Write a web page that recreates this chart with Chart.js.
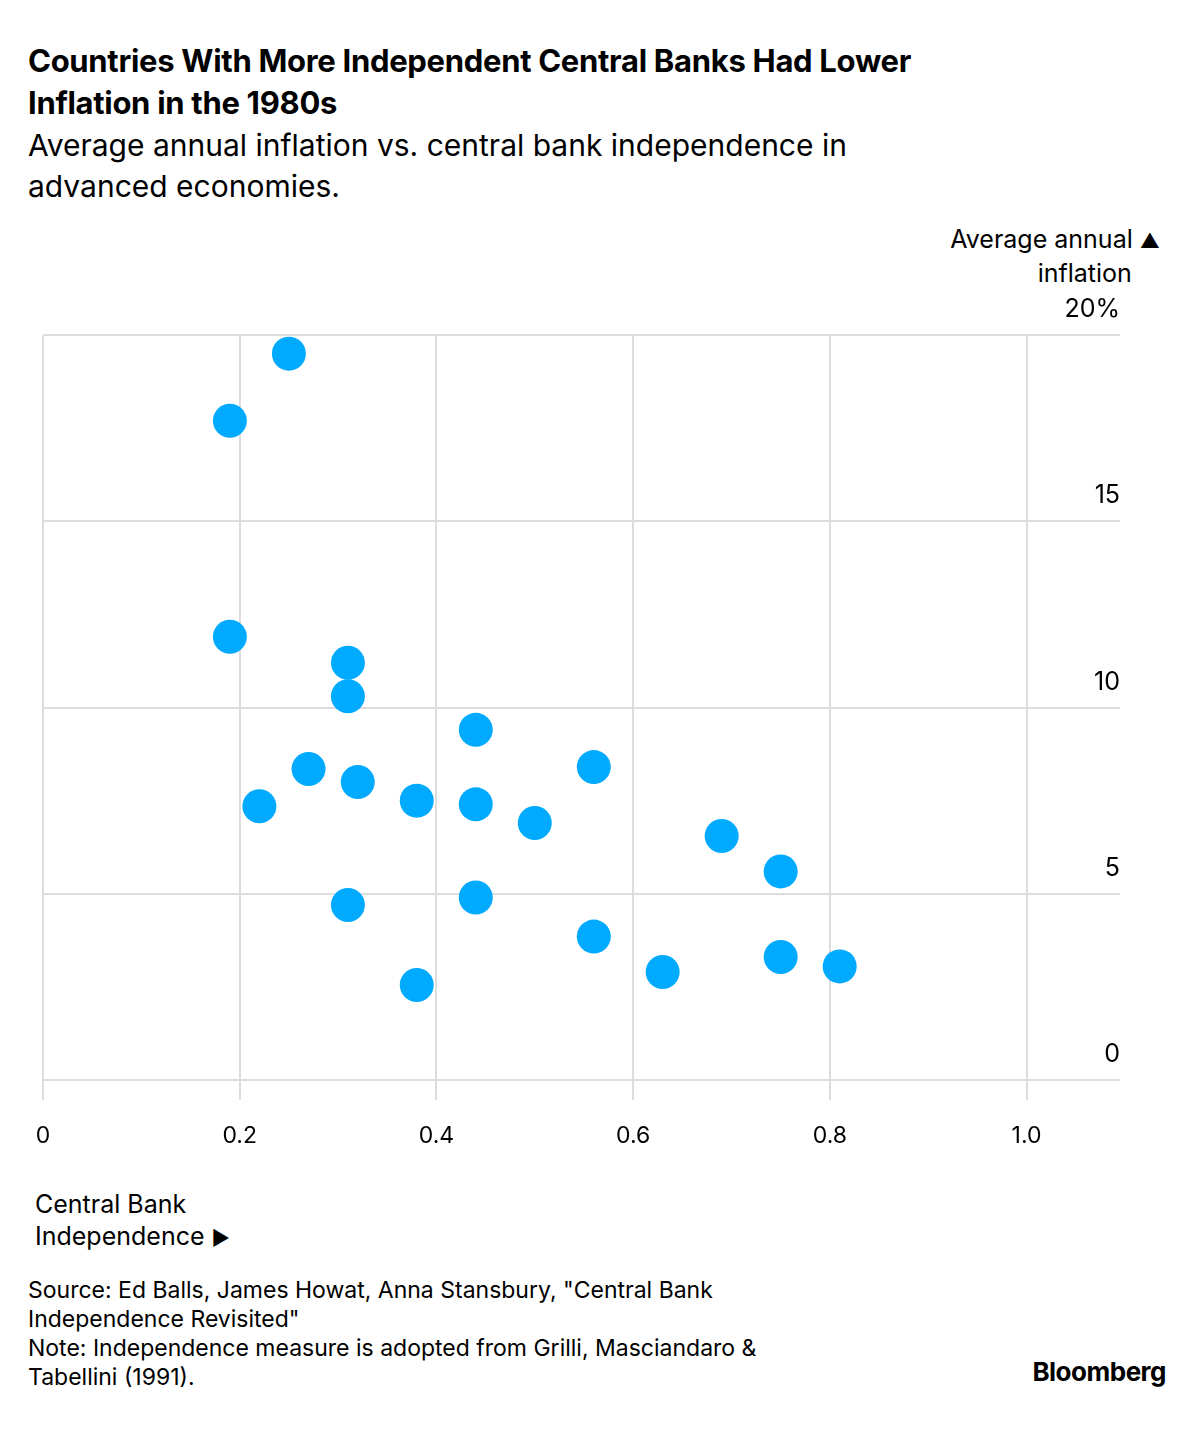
<!DOCTYPE html>
<html>
<head>
<meta charset="utf-8">
<script src="https://cdn.jsdelivr.net/npm/chart.js@4"></script>
<style>
  body { margin: 0; width: 1204px; height: 1432px; background: #fff; font-family: Inter, "Noto Sans", sans-serif; color: #000; position: relative; }
  .t { position: absolute; left: 28px; }
  #title { top: 40px; font-size: 31px; font-weight: 700; line-height: 42px; width: 1000px; letter-spacing: -0.3px; }
  #sub { top: 125px; font-size: 30px; line-height: 41px; width: 900px; }
  #ylab { position: absolute; right: 44px; top: 223px; font-size: 25px; line-height: 32px; text-align: right; }
  #xlab { position: absolute; left: 35px; top: 1188px; font-size: 25px; line-height: 32px; }
  #foot { top: 1276px; font-size: 23px; line-height: 29px; width: 820px; }
  #logo { position: absolute; right: 38px; top: 1356px; font-size: 26px; font-weight: 700; letter-spacing: -0.5px; }
  #wrap { position: absolute; left: 0; top: 220px; width: 1204px; height: 940px; }
  .ar { font-size: 20px; }
</style>
</head>
<body>
<div class="t" id="title">Countries With More Independent Central Banks Had Lower Inflation in the 1980s</div>
<div class="t" id="sub">Average annual inflation vs. central bank independence in advanced economies.</div>
<div id="ylab">Average annual <span class="ar">▲</span><br>inflation&nbsp;&nbsp;&nbsp;&nbsp;</div>
<div id="wrap"><canvas id="c"></canvas></div>
<div id="xlab">Central Bank<br>Independence <span class="ar">►</span></div>
<div class="t" id="foot">Source: Ed Balls, James Howat, Anna Stansbury, "Central Bank Independence Revisited"<br>Note: Independence measure is adopted from Grilli, Masciandaro &amp; Tabellini (1991).</div>
<div id="logo">Bloomberg</div>
<script>
// DATA
const independence = [0.25, 0.19, 0.19, 0.31, 0.31, 0.44, 0.56, 0.27, 0.32, 0.22, 0.38, 0.44, 0.50, 0.69, 0.75, 0.31, 0.44, 0.56, 0.63, 0.75, 0.81, 0.38];
const inflation = [19.5, 17.7, 11.9, 11.2, 10.3, 9.4, 8.4, 8.35, 8.0, 7.35, 7.5, 7.4, 6.9, 6.55, 5.6, 4.7, 4.9, 3.85, 2.9, 3.3, 3.05, 2.55];
const xTicks = [0, 0.2, 0.4, 0.6, 0.8, 1.0];
const yTicks = [0, 5, 10, 15, 20];
const yTickLabels = ["0", "5", "10", "15", "20%"];

const points = independence.map((x, i) => ({ x: x, y: inflation[i] }));

// draw y labels above gridlines, right aligned
const yLabelPlugin = {
    id: "yLabels",
    afterDraw(chart) {
        const c = chart.ctx;
        const y = chart.scales.y;
        c.save();
        c.font = "25px Inter, 'Noto Sans', sans-serif";
        c.fillStyle = "#000";
        c.textAlign = "right";
        c.textBaseline = "alphabetic";
        yTicks.forEach((v, i) => {
            c.fillText(yTickLabels[i], chart.chartArea.right, y.getPixelForValue(v) - 18);
        });
        c.restore();
    }
};

new Chart(document.getElementById("c"), {
    type: "scatter",
    data: {
        datasets: [{
            data: points,
            backgroundColor: "#00aaff",
            borderWidth: 0,
            pointRadius: 17,
            pointHoverRadius: 17
        }]
    },
    options: {
        responsive: true,
        maintainAspectRatio: false,
        animation: false,
        layout: { padding: { left: 43, right: 84, top: 115, bottom: 0 } },
        plugins: { legend: { display: false }, tooltip: { enabled: false } },
        scales: {
            x: {
                type: "linear",
                min: 0,
                max: 1.095,
                afterBuildTicks: s => { s.ticks = xTicks.map(v => ({ value: v })); },
                afterFit: s => { s.height = 80; },
                border: { display: false },
                grid: { color: "#dddddd", lineWidth: 2, tickLength: 20, drawOnChartArea: true },
                ticks: {
                    color: "#000",
                    font: { size: 23, family: "Inter, 'Noto Sans', sans-serif" },
                    padding: 22,
                    maxRotation: 0,
                    callback: v => v === 0 ? "0" : v.toFixed(1)
                }
            },
            y: {
                position: "right",
                min: 0,
                max: 20,
                afterBuildTicks: s => { s.ticks = yTicks.map(v => ({ value: v })); },
                afterFit: s => { s.width = 0; },
                border: { display: false },
                grid: { color: "#dddddd", lineWidth: 2, drawTicks: false },
                ticks: { display: false }
            }
        }
    },
    plugins: [yLabelPlugin]
});
</script>
</body>
</html>
